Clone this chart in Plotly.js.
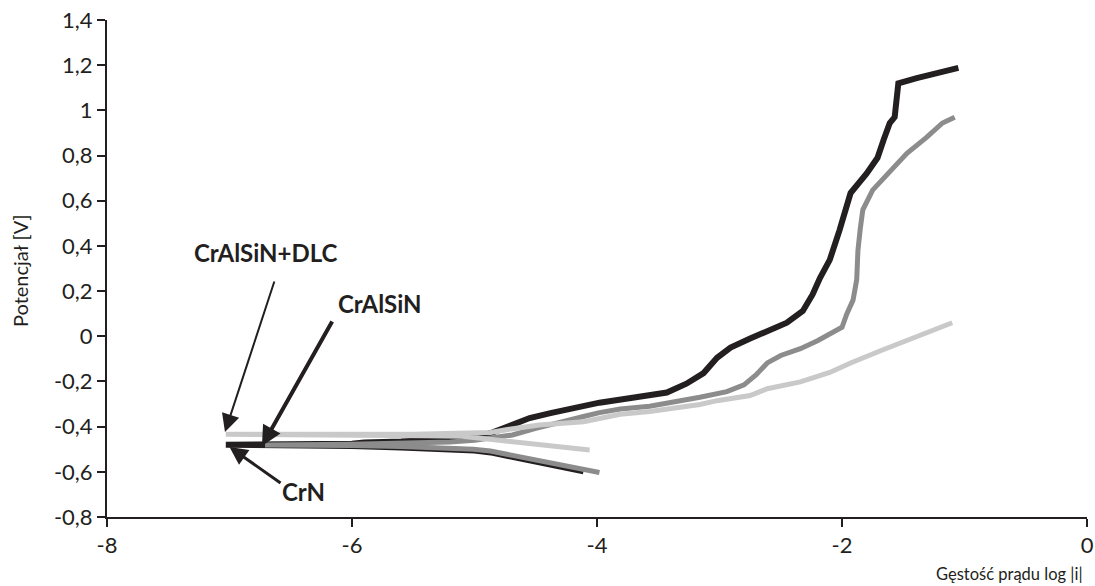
<!DOCTYPE html>
<html>
<head>
<meta charset="utf-8">
<script src="https://cdn.plot.ly/plotly-3.0.1.min.js"></script>
<style>html,body{margin:0;padding:0;background:#fff;}#chart{width:1095px;height:586px;}</style>
</head>
<body>
<div id="chart"></div>
<script>
// CrN (black)
var crnX = [-4.11,-4.25,-4.40,-4.55,-4.70,-4.85,-5.00,-5.30,-5.60,-6.00,-7.03,
            -7.03,-6.00,-5.90,-5.60,-5.30,-5.00,-4.85,-4.71,-4.55,-4.38,-4.20,-3.98,-3.71,-3.43,-3.27,-3.13,-3.02,-2.91,-2.75,-2.59,-2.45,-2.32,-2.24,-2.18,-2.10,-2.02,-1.93,-1.80,-1.71,-1.66,-1.61,-1.57,-1.56,-1.55,-1.54,-1.39,-1.22,-1.05];
var crnY = [-0.598,-0.582,-0.565,-0.548,-0.530,-0.516,-0.506,-0.497,-0.492,-0.486,-0.483,
            -0.480,-0.476,-0.470,-0.466,-0.460,-0.448,-0.425,-0.393,-0.362,-0.340,-0.318,-0.294,-0.272,-0.249,-0.210,-0.163,-0.095,-0.050,-0.010,0.026,0.060,0.112,0.185,0.258,0.338,0.470,0.634,0.720,0.790,0.870,0.944,0.970,1.030,1.090,1.120,1.143,1.165,1.188];
// CrAlSiN (dark grey)
var cralsinX = [-3.98,-4.10,-4.20,-4.35,-4.47,-4.60,-4.73,-4.87,-5.01,-5.30,-5.60,-6.00,-6.71,
                -6.71,-6.00,-5.50,-5.20,-5.00,-4.85,-4.69,-4.50,-4.30,-4.11,-3.98,-3.81,-3.57,-3.43,-3.16,-2.94,-2.80,-2.70,-2.61,-2.50,-2.34,-2.20,-2.07,-2.00,-1.96,-1.91,-1.88,-1.87,-1.85,-1.83,-1.75,-1.63,-1.47,-1.31,-1.18,-1.08];
var cralsinY = [-0.603,-0.590,-0.578,-0.562,-0.548,-0.532,-0.518,-0.508,-0.500,-0.493,-0.488,-0.484,-0.483,
                -0.481,-0.478,-0.474,-0.468,-0.460,-0.450,-0.437,-0.408,-0.378,-0.355,-0.338,-0.322,-0.310,-0.298,-0.270,-0.245,-0.215,-0.170,-0.118,-0.085,-0.055,-0.020,0.015,0.040,0.100,0.160,0.250,0.380,0.480,0.560,0.647,0.720,0.810,0.880,0.944,0.970];
// CrAlSiN+DLC (light grey)
var dlcX = [-4.06,-4.25,-4.45,-4.63,-4.80,-4.95,-5.10,-5.40,-7.03,
            -7.03,-5.50,-5.00,-4.87,-4.70,-4.47,-4.11,-3.81,-3.57,-3.16,-3.02,-2.75,-2.61,-2.34,-2.10,-1.93,-1.67,-1.39,-1.14,-1.10];
var dlcY = [-0.503,-0.492,-0.480,-0.465,-0.455,-0.448,-0.443,-0.440,-0.437,
            -0.434,-0.434,-0.430,-0.426,-0.410,-0.393,-0.378,-0.345,-0.333,-0.302,-0.285,-0.262,-0.232,-0.202,-0.160,-0.118,-0.061,-0.003,0.050,0.060];

var xTickVals = [-8,-6,-4,-2,0];
var xTickText = ['-8','-6','-4','-2','0'];
var yTickVals = [-0.8,-0.6,-0.4,-0.2,0,0.2,0.4,0.6,0.8,1,1.2,1.4];
var yTickText = ['-0,8','-0,6','-0,4','-0,2','0','0,2','0,4','0,6','0,8','1','1,2','1,4'];

var labelNames = ['CrAlSiN+DLC','CrAlSiN','CrN'];
var axisTitles = ['Potencjał [V]','Gęstość prądu log |i|'];

var FONT = 'Lato, "Open Sans", sans-serif';
var INK = '#231f20';

var traces = [
  {x: crnX, y: crnY, mode: 'lines', name: 'CrN', line: {color: INK, width: 6}, hoverinfo: 'skip'},
  {x: cralsinX, y: cralsinY, mode: 'lines', name: 'CrAlSiN', line: {color: '#8c8c8c', width: 5}, hoverinfo: 'skip'},
  {x: dlcX, y: dlcY, mode: 'lines', name: 'CrAlSiN+DLC', line: {color: '#c9c9c9', width: 5}, hoverinfo: 'skip'}
];

var ann = [
  {x: -6.70, y: 0.369, xref: 'x', yref: 'y', text: '<b>' + labelNames[0] + '</b>', showarrow: false, font: {family: FONT, size: 24, color: INK}},
  {x: -5.77, y: 0.147, xref: 'x', yref: 'y', text: '<b>' + labelNames[1] + '</b>', showarrow: false, font: {family: FONT, size: 24, color: INK}},
  {x: -6.40, y: -0.689, xref: 'x', yref: 'y', text: '<b>' + labelNames[2] + '</b>', showarrow: false, font: {family: FONT, size: 24, color: INK}},
  {x: -7.037, y: -0.424, ax: -6.63, ay: 0.249, xref: 'x', yref: 'y', axref: 'x', ayref: 'y', text: '', showarrow: true, arrowhead: 2, arrowsize: 1.8, arrowwidth: 2, arrowcolor: INK},
  {x: -6.735, y: -0.486, ax: -6.155, ay: 0.072, xref: 'x', yref: 'y', axref: 'x', ayref: 'y', text: '', showarrow: true, arrowhead: 2, arrowsize: 1, arrowwidth: 4, arrowcolor: INK},
  {x: -7.0, y: -0.49, ax: -6.571, ay: -0.654, xref: 'x', yref: 'y', axref: 'x', ayref: 'y', text: '', showarrow: true, arrowhead: 2, arrowsize: 1.2, arrowwidth: 3, arrowcolor: INK},
  {x: -0.0888, y: 0.497, xref: 'paper', yref: 'paper', text: axisTitles[0], textangle: -90, showarrow: false, xanchor: 'center', yanchor: 'middle', font: {family: FONT, size: 20, color: INK}},
  {x: 0.998, y: -0.1147, xref: 'paper', yref: 'paper', text: axisTitles[1], showarrow: false, xanchor: 'right', yanchor: 'middle', font: {family: FONT, size: 16.5, color: INK}}
];

var layout = {
  width: 1095, height: 586,
  margin: {l: 107, r: 8, t: 20, b: 69},
  paper_bgcolor: '#fff', plot_bgcolor: '#fff',
  showlegend: false,
  font: {family: FONT, size: 22, color: INK},
  xaxis: {
    range: [-8, 0], tickvals: xTickVals, ticktext: xTickText,
    showgrid: false, zeroline: false, showline: true, linecolor: INK, linewidth: 2,
    ticks: 'outside', ticklen: 8, tickwidth: 2, tickcolor: INK,
    tickfont: {family: FONT, size: 22, color: INK}
  },
  yaxis: {
    range: [-0.8, 1.4], tickvals: yTickVals, ticktext: yTickText,
    showgrid: false, zeroline: false, showline: true, linecolor: INK, linewidth: 2,
    ticks: 'outside', ticklen: 8, tickwidth: 2, tickcolor: INK,
    tickfont: {family: FONT, size: 22, color: INK}
  },
  annotations: ann
};

Plotly.newPlot('chart', traces, layout, {staticPlot: true, displayModeBar: false});
</script>
</body>
</html>
